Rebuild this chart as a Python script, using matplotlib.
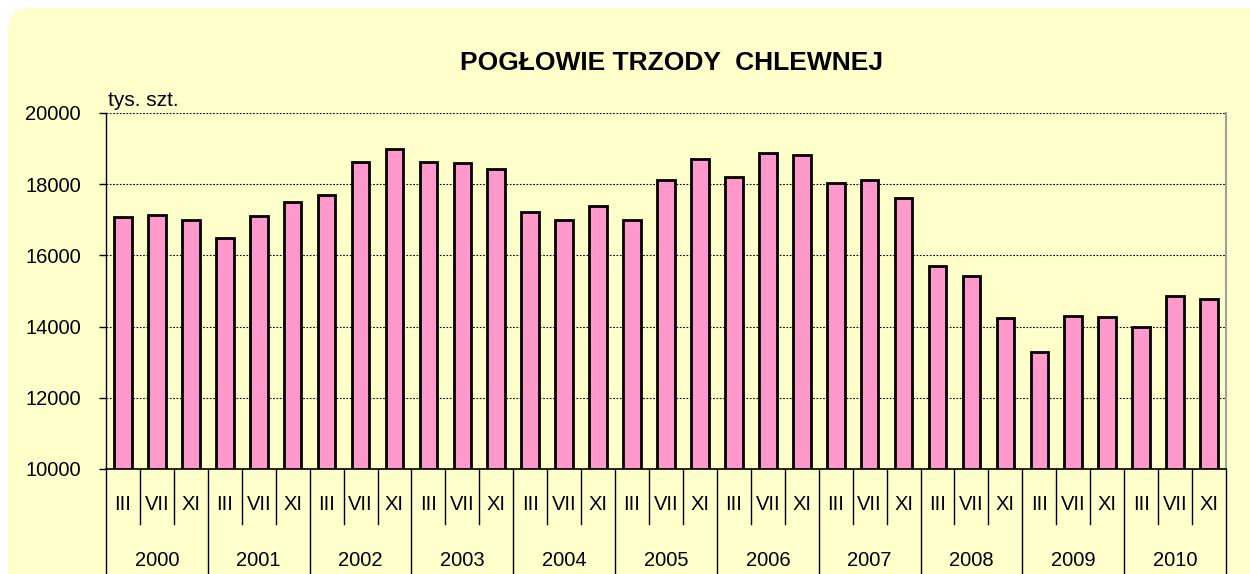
import matplotlib
matplotlib.use("Agg")
import matplotlib.pyplot as plt
from matplotlib.patches import FancyBboxPatch
from matplotlib.transforms import blended_transform_factory, IdentityTransform

plt.rcParams['font.family'] = ['Liberation Sans', 'DejaVu Sans']

years = ['2000', '2001', '2002', '2003', '2004', '2005',
         '2006', '2007', '2008', '2009', '2010']
months = ['III', 'VII', 'XI']
# pogłowie trzody chlewnej, tys. szt.
values = [17090, 17125, 17000,
          16500, 17105, 17505,
          17690, 18625, 18990,
          18615, 18595, 18440,
          17210, 16995, 17385,
          16995, 18105, 18700,
          18200, 18875, 18810,
          18020, 18115, 17620,
          15690, 15430, 14250,
          13300, 14300, 14275,
          13985, 14870, 14780]

bg = '#FFFFCC'
fig = plt.figure(figsize=(12.5, 5.74), dpi=100)
fig.patch.set_facecolor('white')
# rounded background (pixel coords)
box = FancyBboxPatch((8, -60), 1300, 574 - 8 + 60,
                     boxstyle='round,pad=0,rounding_size=22',
                     transform=IdentityTransform(), facecolor=bg,
                     edgecolor='none', zorder=-5)
fig.patches.append(box)

ax = fig.add_axes([106 / 1250, 1 - 469 / 574, 1120 / 1250, 356 / 574])
ax.set_facecolor(bg)

x = list(range(len(values)))
ax.bar(x, [v - 10000 for v in values], bottom=10000, width=0.52,
       color='#FF99CC', edgecolor='black', linewidth=2, zorder=3)

ax.set_xlim(-0.5, len(values) - 0.5)
ax.set_ylim(10000, 20000)
ax.set_yticks(range(10000, 20001, 2000))
ax.tick_params(axis='y', labelsize=14.5, length=5, width=1, direction='out', pad=13)
ax.set_xticks([])
ax.yaxis.grid(True, linestyle=(0, (1.5, 1.5)), color='black', linewidth=0.8, zorder=1)

ax.spines['top'].set_visible(False)
ax.spines['right'].set_color('#A0A0A0')
ax.spines['right'].set_linewidth(1.5)
ax.spines['left'].set_linewidth(1)
ax.spines['bottom'].set_linewidth(1.2)

# category axis with two levels
tr = blended_transform_factory(ax.transData, ax.transAxes)
for i in range(len(values) + 1):
    low = -0.30 if i % 3 == 0 else -0.155
    ax.plot([i - 0.5, i - 0.5], [0, low], transform=tr, clip_on=False,
            color='black', linewidth=1)
for i in x:
    ax.text(i, -0.100, months[i % 3], transform=tr, ha='center', va='center',
            fontsize=14.5)
for j, yr in enumerate(years):
    ax.text(3 * j + 1, -0.256, yr, transform=tr, ha='center', va='center',
            fontsize=14.5)

ax.text(0.002, 1.008, 'tys. szt.', transform=ax.transAxes, ha='left',
        va='bottom', fontsize=15)
fig.text(672 / 1250, 1 - 63 / 574, 'POGŁOWIE TRZODY  CHLEWNEJ', ha='center',
         va='center', fontsize=19, fontweight='bold')

fig.savefig('out.png', dpi=100, facecolor=fig.get_facecolor())
